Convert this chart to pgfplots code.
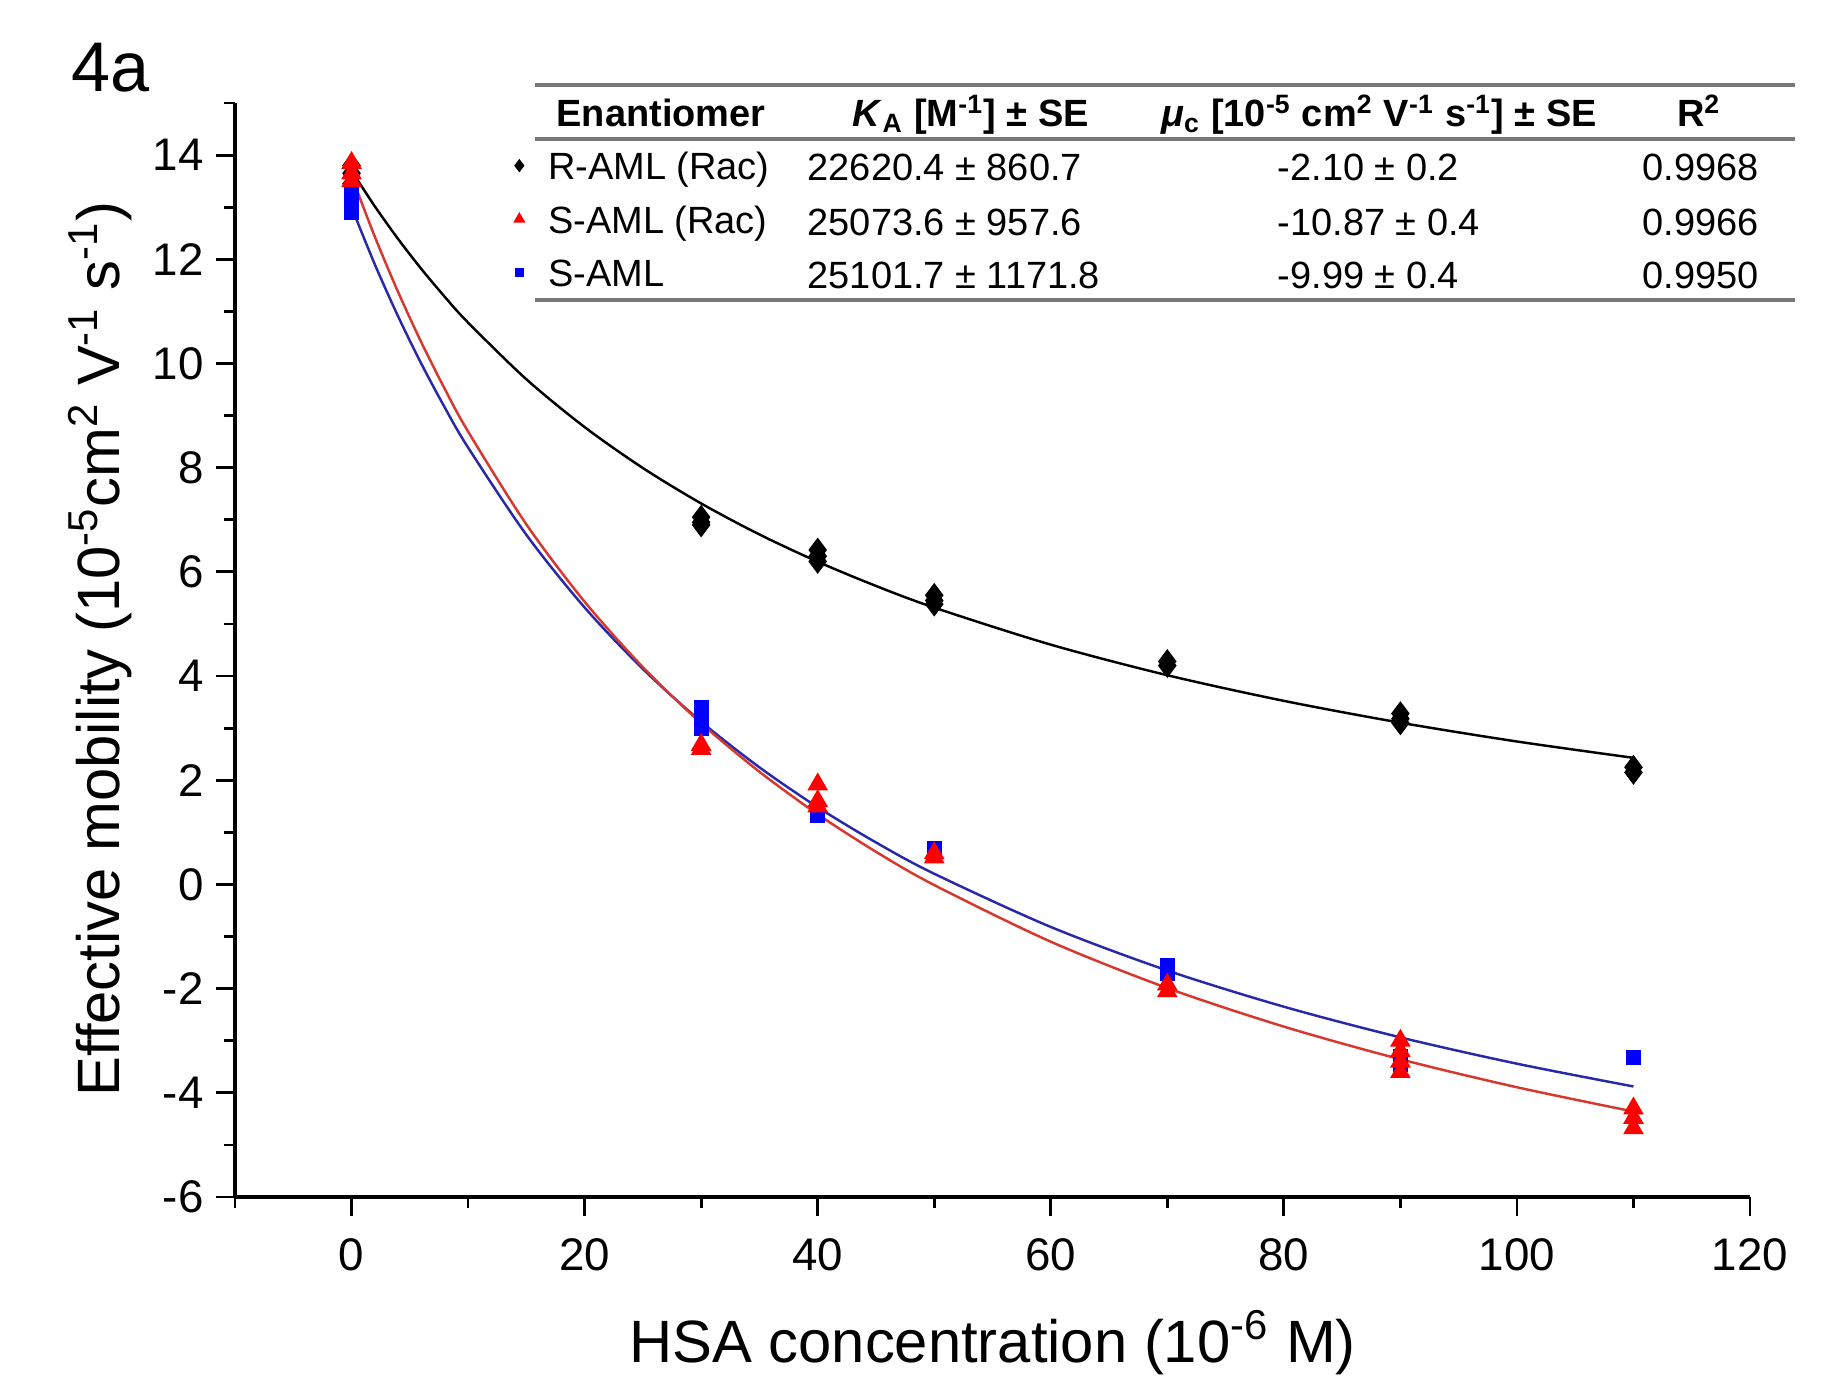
\documentclass[border=0pt]{standalone}
\usepackage{fontspec}
\setmainfont{Liberation Sans}
\usepackage{pgfplots}
\pgfplotsset{compat=1.18}

\definecolor{fitred}{RGB}{215,55,45}
\definecolor{fitblue}{RGB}{40,40,170}
\definecolor{rulegray}{RGB}{120,120,120}

\begin{document}
\begin{tikzpicture}
\begin{axis}[
  scale only axis, width=15.15cm, height=10.94cm,
  xmin=-10, xmax=120, ymin=-6, ymax=15,
  axis x line*=bottom, axis y line*=left,
  axis line style={line width=1pt,-},
  xtick={0,20,...,120}, ytick={-6,-4,...,14},
  minor xtick={-10,10,30,50,70,90,110},
  minor ytick={-5,-3,...,15},
  tick align=outside,
  major tick length=0.19cm, minor tick length=0.11cm,
  tick style={line width=0.8pt,black},
  ticklabel style={font=\fontsize{13}{15}\selectfont},
  xticklabel style={yshift=-0.1cm},
  /pgf/number format/assume math mode=true,
  clip=false,
  legend style={draw=none, fill=none, at={(0.184,0.956)}, anchor=north west,
    font=\fontsize{10.8}{13}\selectfont, inner sep=0pt, row sep=0pt,
    nodes={inner sep=0pt, text height=0.28cm, text depth=0.255cm},
    /tikz/every odd column/.append style={column sep=0.24cm}},
  legend image post style={yshift=0.13cm},
  legend cell align=left,
]
\addlegendimage{only marks, mark=diamond*, mark size=1.6pt, black}
\addlegendimage{only marks, mark=triangle*, mark size=1.6pt, red}
\addlegendimage{only marks, mark=square*, mark size=1.0pt, blue}

% fitted curves
\addplot[black, line width=0.7pt, smooth, forget plot] coordinates {
 (0,13.70)(2,13.016)(4,12.389)(6,11.812)(8,11.279)(10,10.785)(15,9.697)(20,8.779)
 (25,7.993)(30,7.313)(35,6.718)(40,6.195)(45,5.730)(50,5.314)(60,4.603)(70,4.016)
 (80,3.524)(90,3.105)(100,2.744)(110,2.430)};
\addplot[fitblue, line width=0.7pt, smooth, forget plot] coordinates {
 (0,13.0)(2,11.901)(4,10.902)(6,9.991)(8,9.155)(10,8.387)(15,6.712)(20,5.316)
 (25,4.136)(30,3.124)(35,2.248)(40,1.482)(45,0.806)(50,0.205)(60,-0.816)(70,-1.652)
 (80,-2.347)(90,-2.936)(100,-3.441)(110,-3.878)};
\addplot[fitred, line width=0.7pt, smooth, forget plot] coordinates {
 (0,13.6)(2,12.432)(4,11.370)(6,10.400)(8,9.512)(10,8.694)(15,6.912)(20,5.427)
 (25,4.171)(30,3.095)(35,2.163)(40,1.347)(45,0.627)(50,-0.012)(60,-1.099)(70,-1.989)
 (80,-2.729)(90,-3.356)(100,-3.893)(110,-4.359)};

% measured points
\addplot[only marks, mark=diamond*, mark size=3.2pt, black, forget plot] coordinates {
 (0,13.8)(0,13.65)(0,13.45)(30,7.05)(30,6.95)(30,6.9)(40,6.42)(40,6.3)(40,6.2)
 (50,5.55)(50,5.45)(50,5.38)(70,4.28)(70,4.2)(90,3.28)(90,3.18)(90,3.1)(110,2.25)(110,2.15)};
\addplot[only marks, mark=square*, mark size=1.9pt, blue, forget plot] coordinates {
 (0,13.25)(0,13.05)(0,12.9)(30,3.4)(30,3.2)(30,3.0)(40,1.45)(40,1.32)(50,0.7)(50,0.6)
 (70,-1.55)(70,-1.72)(90,-3.3)(90,-3.45)(110,-3.32)};
\addplot[only marks, mark=triangle*, mark size=3pt, red, forget plot] coordinates {
 (0,13.85)(0,13.65)(0,13.5)(30,2.68)(30,2.6)(40,1.92)(40,1.6)(40,1.5)(50,0.6)(50,0.52)
 (70,-1.92)(70,-2.05)(90,-3.0)(90,-3.2)(90,-3.4)(90,-3.6)(110,-4.3)(110,-4.48)(110,-4.68)};

\legend{R-AML (Rac), S-AML (Rac), S-AML}
\end{axis}

% table
\tikzset{tv/.style={anchor=base west, inner sep=0pt, font=\fontsize{10.8}{13}\selectfont},
         th/.style={anchor=base, inner sep=0pt, font=\fontsize{10.8}{13}\selectfont\bfseries}}
\draw[line width=0.9pt, rulegray] (3.00,11.12) -- (15.60,11.12);
\draw[line width=0.9pt, rulegray] (3.00,10.58) -- (15.60,10.58);
\draw[line width=0.9pt, rulegray] (3.00,8.97) -- (15.60,8.97);
\node[th] at (4.26,10.70) {Enantiomer};
\node[th] at (7.36,10.70) {\textit{K}\textsubscript{A} [M\textsuperscript{-1}] ± SE};
\node[th] at (11.44,10.70) {\textit{μ}\textsubscript{c} [10\textsuperscript{-5} cm\textsuperscript{2} V\textsuperscript{-1} s\textsuperscript{-1}] ± SE};
\node[th] at (14.64,10.70) {R\textsuperscript{2}};
\node[tv] at (5.72,10.16) {22620.4 ± 860.7};
\node[tv] at (10.42,10.16) {-2.10 ± 0.2};
\node[tv] at (14.07,10.16) {0.9968};
\node[tv] at (5.72,9.62) {25073.6 ± 957.6};
\node[tv] at (10.42,9.62) {-10.87 ± 0.4};
\node[tv] at (14.07,9.62) {0.9966};
\node[tv] at (5.72,9.09) {25101.7 ± 1171.8};
\node[tv] at (10.42,9.09) {-9.99 ± 0.4};
\node[tv] at (14.07,9.09) {0.9950};

% axis titles and panel label
\node[rotate=90, anchor=center, font=\fontsize{17}{20}\selectfont] at (-1.35,5.48)
  {Effective mobility (10\textsuperscript{-5}cm\textsuperscript{2} V\textsuperscript{-1} s\textsuperscript{-1})};
\node[anchor=base, font=\fontsize{17}{20}\selectfont] at (7.575,-1.65)
  {HSA concentration (10\textsuperscript{-6} M)};
\node[anchor=base west, inner sep=0pt, font=\fontsize{20}{24}\selectfont] at (-1.64,11.05) {4a};

\pgfresetboundingbox
\useasboundingbox (-2.35,-1.79) rectangle (16.10,11.97);
\end{tikzpicture}
\end{document}
